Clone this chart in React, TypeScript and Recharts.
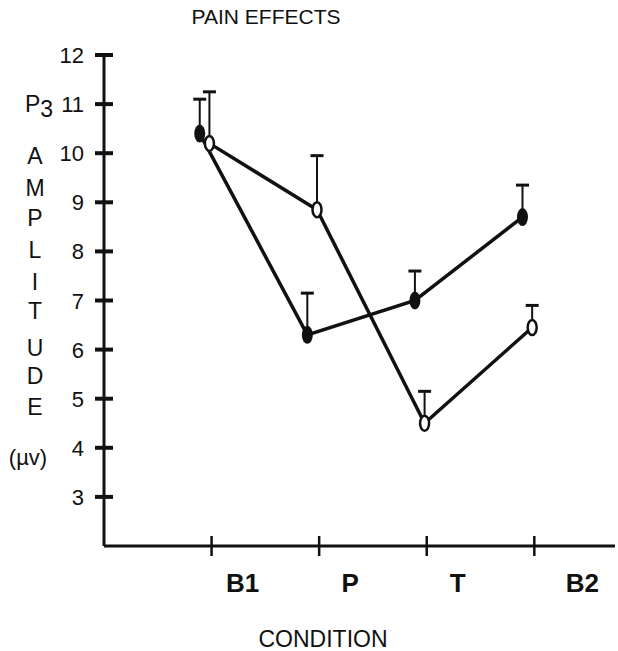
import React from 'react';
import { LineChart, Line, XAxis, YAxis } from 'recharts';

const categories = ['B1', 'P', 'T', 'B2'];
const yTicks = [3, 4, 5, 6, 7, 8, 9, 10, 11, 12];

// filled markers
const filledMean = [10.4, 6.3, 7.0, 8.7];
const filledErr = [0.7, 0.85, 0.6, 0.65];
// open markers
const openMean = [10.2, 8.85, 4.5, 6.45];
const openErr = [1.05, 1.1, 0.65, 0.45];

const titleLetters = ['A', 'M', 'P', 'L', 'I', 'T', 'U', 'D', 'E'];

const FILLED_SHIFT = -0.11;
const OPEN_SHIFT = -0.02;

const filledData = categories.map((c, i) => ({ x: i + 1 + FILLED_SHIFT, y: filledMean[i] }));
const openData = categories.map((c, i) => ({ x: i + 1 + OPEN_SHIFT, y: openMean[i] }));

// one-sided (upper) error bars: a two-point segment from mean to mean + err
const errorSegments = [
  ...filledData.map((d, i) => [d, { x: d.x, y: d.y + filledErr[i] }]),
  ...openData.map((d, i) => [d, { x: d.x, y: d.y + openErr[i] }]),
];

const FONT = '"Liberation Sans", Arial, Helvetica, sans-serif';
const INK = '#111';

function YTick(props: any) {
  const { x, y, payload } = props;
  return (
    <g>
      <line x1={x - 9} x2={x + 9} y1={y} y2={y} stroke={INK} strokeWidth={4} />
      <text x={x - 20} y={y} dy={8} textAnchor="end" fontSize={22} fontFamily={FONT} fill={INK}>
        {payload.value}
      </text>
    </g>
  );
}

function XTick(props: any) {
  const { x, y, payload } = props;
  const label = categories[payload.value - 1] ?? '';
  const dx = label === 'B2' ? 48 : 31;
  return (
    <g>
      <line x1={x} x2={x} y1={y - 10} y2={y + 10} stroke={INK} strokeWidth={2.5} />
      <text x={x + dx} y={y + 46} textAnchor="middle" fontSize={26} fontWeight="bold" fontFamily={FONT} fill={INK}>
        {label}
      </text>
    </g>
  );
}

function FilledDot(props: any) {
  const { cx, cy, index } = props;
  return <ellipse key={`f${index}`} cx={cx} cy={cy} rx={5.5} ry={9} fill={INK} />;
}

function OpenDot(props: any) {
  const { cx, cy, index } = props;
  return <ellipse key={`o${index}`} cx={cx} cy={cy} rx={4.5} ry={7.5} fill="#fff" stroke={INK} strokeWidth={2.5} />;
}

function CapDot(props: any) {
  const { cx, cy, index } = props;
  if (index !== 1) return <g key={`c${index}`} />;
  return <line key={`c${index}`} x1={cx - 6.5} x2={cx + 6.5} y1={cy} y2={cy} stroke={INK} strokeWidth={3} />;
}

function YTitle() {
  const letterY = [156, 188, 218, 250, 282, 311, 348, 376, 407];
  return (
    <g fontFamily={FONT} fill={INK} fontSize={23}>
      <text x={25} y={112}>
        P<tspan dy={5}>3</tspan>
      </text>
      {titleLetters.map((l, i) => (
        <text key={l + i} x={35} y={letterY[i] + 8} textAnchor="middle">
          {l}
        </text>
      ))}
      <text x={28} y={465} textAnchor="middle" fontSize={22}>(µv)</text>
    </g>
  );
}

export default function App() {
  return (
    <div style={{ position: 'absolute', left: 0, top: 0, width: 618, height: 651, background: '#fff' }}>
      <LineChart width={618} height={651} margin={{ top: 55, right: 3, bottom: 0, left: 0 }}>
        <text x={266} y={24} textAnchor="middle" fontSize={21} fontFamily={FONT} fill={INK}>
          PAIN EFFECTS
        </text>
        <text x={323} y={647} textAnchor="middle" fontSize={23} fontFamily={FONT} fill={INK}>
          CONDITION
        </text>
        <YTitle />
        <XAxis
          type="number"
          dataKey="x"
          domain={[0, 4.75]}
          ticks={[1, 2, 3, 4]}
          allowDataOverflow
          tickSize={0}
          tickMargin={0}
          tickLine={false}
          tick={<XTick />}
          axisLine={{ stroke: INK, strokeWidth: 3 }}
          height={105}
        />
        <YAxis
          type="number"
          domain={[2, 12]}
          ticks={yTicks}
          width={104}
          tickSize={0}
          tickMargin={0}
          tickLine={false}
          tick={<YTick />}
          axisLine={{ stroke: INK, strokeWidth: 3 }}
        />
        {errorSegments.map((seg, i) => (
          <Line
            key={`err${i}`}
            data={seg}
            dataKey="y"
            stroke={INK}
            strokeWidth={2}
            dot={<CapDot />}
            activeDot={false}
            isAnimationActive={false}
          />
        ))}
        <Line data={openData} dataKey="y" stroke={INK} strokeWidth={3.5} dot={false} activeDot={false} isAnimationActive={false} />
        <Line data={filledData} dataKey="y" stroke={INK} strokeWidth={3.5} dot={false} activeDot={false} isAnimationActive={false} />
        <Line data={openData} dataKey="y" stroke="none" dot={<OpenDot />} activeDot={false} isAnimationActive={false} />
        <Line data={filledData} dataKey="y" stroke="none" dot={<FilledDot />} activeDot={false} isAnimationActive={false} />
      </LineChart>
    </div>
  );
}
